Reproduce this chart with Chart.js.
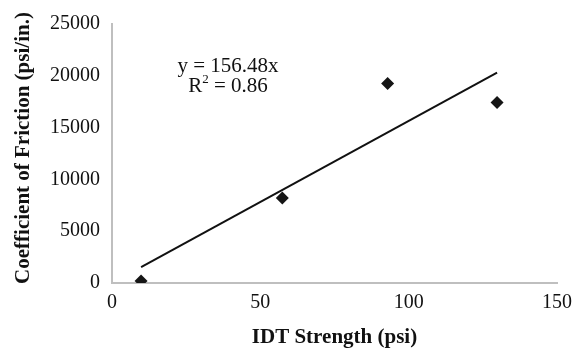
<!DOCTYPE html>
<html>
<head>
<meta charset="utf-8">
<script src="https://cdn.jsdelivr.net/npm/chart.js@4/dist/chart.umd.min.js"></script>
<style>
    html, body { margin: 0; padding: 0; background: #fff; }
    #wrap { width: 585px; height: 352px; position: relative; }
</style>
</head>
<body>
<div id="wrap"><canvas id="chart"></canvas></div>
<script>
// IDT strength (psi) vs coefficient of friction (psi/in.)
const idtStrength = [9.8, 57.4, 92.9, 129.8];
const friction = [200, 8200, 19250, 17420];
const slope = 156.48;
const rSquared = 0.86;
const xTicks = [0, 50, 100, 150];
const yTicks = [0, 5000, 10000, 15000, 20000, 25000];

const serif = "'Liberation Serif', 'Times New Roman', serif";

// linear fit through the origin, drawn over the data range
const xMin = Math.min(...idtStrength);
const xMax = Math.max(...idtStrength);
const trend = [
    { x: xMin, y: slope * xMin },
    { x: xMax, y: slope * xMax }
];

const points = idtStrength.map((x, i) => ({ x: x, y: friction[i] }));

// equation label (with superscript) and rotated y title
const extras = {
    id: 'extras',
    afterDraw(chart) {
        const ctx = chart.ctx;
        ctx.save();
        ctx.fillStyle = '#111';
        ctx.textBaseline = 'alphabetic';
        ctx.font = '21px ' + serif;
        ctx.textAlign = 'center';
        ctx.fillText('y = ' + slope + 'x', 228, 72);

        // R² = 0.86, the "2" set smaller and raised
        const big = '21px ' + serif;
        const small = '13px ' + serif;
        const rest = ' = ' + rSquared;
        ctx.font = big;
        const wR = ctx.measureText('R').width;
        const wRest = ctx.measureText(rest).width;
        ctx.font = small;
        const w2 = ctx.measureText('2').width;
        let x = 228 - (wR + w2 + wRest) / 2;
        ctx.textAlign = 'left';
        ctx.font = big;
        ctx.fillText('R', x, 92);
        ctx.font = small;
        ctx.fillText('2', x + wR, 83);
        ctx.font = big;
        ctx.fillText(rest, x + wR + w2, 92);

        ctx.translate(24, 148);
        ctx.rotate(-Math.PI / 2);
        ctx.textAlign = 'center';
        ctx.textBaseline = 'middle';
        ctx.font = 'bold 21px ' + serif;
        ctx.fillText('Coefficient of Friction (psi/in.)', 0, 0);
        ctx.restore();
    }
};

new Chart(document.getElementById('chart'), {
    type: 'scatter',
    data: {
        datasets: [{
            label: 'Data',
            data: points,
            pointStyle: 'rectRot',
            pointRadius: 6.5,
            backgroundColor: '#151515',
            borderColor: '#151515',
            borderWidth: 0
        }, {
            label: 'Trend',
            type: 'line',
            data: trend,
            borderColor: '#111',
            borderWidth: 2,
            pointRadius: 0,
            fill: false
        }]
    },
    options: {
        responsive: true,
        maintainAspectRatio: false,
        animation: false,
        layout: {
            padding: { left: 0, right: 28, top: 18, bottom: 0 }
        },
        scales: {
            x: {
                type: 'linear',
                min: 0,
                max: 150,
                afterBuildTicks: (scale) => { scale.ticks = xTicks.map(v => ({ value: v })); },
                afterFit: (scale) => { scale.height = 69; },
                grid: { display: false, drawTicks: false },
                border: { color: '#bfbfbf', width: 2 },
                ticks: {
                    padding: 8,
                    color: '#111',
                    font: { family: serif, size: 20 },
                    callback: (v) => String(v)
                },
                title: {
                    display: true,
                    text: 'IDT Strength (psi)',
                    color: '#111',
                    font: { family: serif, size: 21, weight: 'bold' },
                    padding: { top: 0, bottom: 2 }
                }
            },
            y: {
                min: 0,
                max: 25000,
                afterBuildTicks: (scale) => { scale.ticks = yTicks.map(v => ({ value: v })); },
                afterFit: (scale) => { scale.width = 112; },
                grid: { display: false, drawTicks: false },
                border: { color: '#bfbfbf', width: 2 },
                ticks: {
                    padding: 12,
                    color: '#111',
                    font: { family: serif, size: 20 },
                    callback: (v) => String(v)
                }
            }
        },
        plugins: {
            legend: { display: false },
            tooltip: { enabled: false }
        }
    },
    plugins: [extras]
});
</script>
</body>
</html>
